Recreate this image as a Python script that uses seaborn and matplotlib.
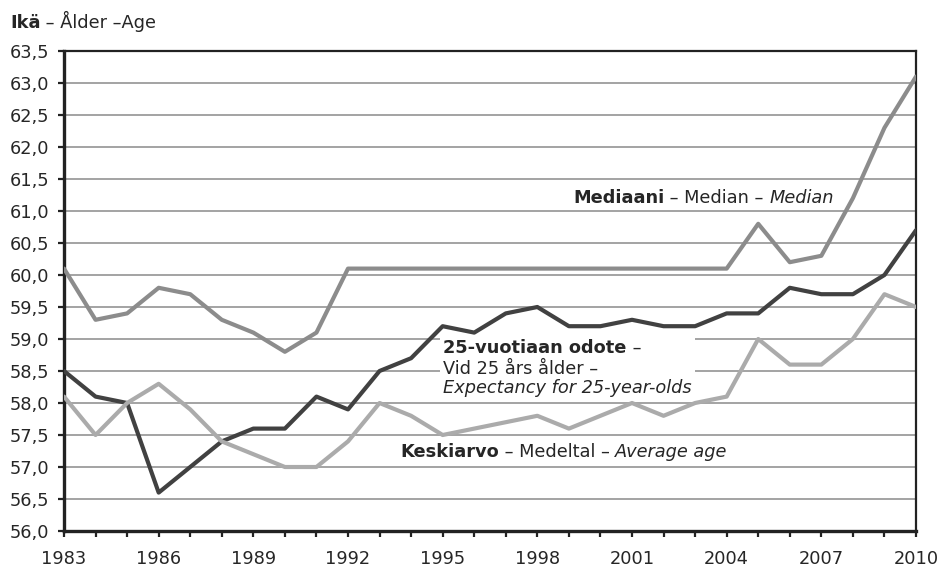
import matplotlib
matplotlib.use("Agg")
import matplotlib.pyplot as plt
import seaborn as sns
import pandas as pd
from matplotlib.patches import Rectangle

years = list(range(1983, 2011))
median = [60.1, 59.3, 59.4, 59.8, 59.7, 59.3, 59.1, 58.8, 59.1, 60.1,
          60.1, 60.1, 60.1, 60.1, 60.1, 60.1, 60.1, 60.1, 60.1, 60.1,
          60.1, 60.1, 60.8, 60.2, 60.3, 61.2, 62.3, 63.1]
expect25 = [58.5, 58.1, 58.0, 56.6, 57.0, 57.4, 57.6, 57.6, 58.1, 57.9,
            58.5, 58.7, 59.2, 59.1, 59.4, 59.5, 59.2, 59.2, 59.3, 59.2,
            59.2, 59.4, 59.4, 59.8, 59.7, 59.7, 60.0, 60.7]
average = [58.1, 57.5, 58.0, 58.3, 57.9, 57.4, 57.2, 57.0, 57.0, 57.4,
           58.0, 57.8, 57.5, 57.6, 57.7, 57.8, 57.6, 57.8, 58.0, 57.8,
           58.0, 58.1, 59.0, 58.6, 58.6, 59.0, 59.7, 59.5]
xtick_years = list(range(1983, 2011, 3))
yticks = [56.0 + 0.5 * i for i in range(16)]

sns.set_style("white")
plt.rcParams['font.family'] = ['DejaVu Sans']

fig = plt.figure(figsize=(9.41, 5.66), dpi=100)
ax = fig.add_axes([64/941, 1 - 531/566, (916-64)/941, (531-51)/566])

df = pd.DataFrame({"year": years, "median": median, "exp": expect25, "avg": average})
sns.lineplot(data=df, x="year", y="median", ax=ax, color="#8c8c8c", lw=3.0, zorder=4)
sns.lineplot(data=df, x="year", y="exp", ax=ax, color="#414141", lw=3.0, zorder=5)
sns.lineplot(data=df, x="year", y="avg", ax=ax, color="#ababab", lw=3.0, zorder=6)

fs = 12.8
tc = "#262626"
ax.set_xlim(1983, 2010)
ax.set_ylim(56.0, 63.5)
ax.set_xticks(years, minor=True)
ax.set_xticks(xtick_years)
ax.set_xticklabels([str(y) for y in xtick_years], fontsize=fs, color=tc)
ax.set_yticks(yticks)
ax.set_yticklabels([f"{v:.1f}".replace(".", ",") for v in yticks], fontsize=fs, color=tc)
ax.set_xlabel("")
ax.set_ylabel("")
for yv in yticks[1:-1]:
    ax.axhline(yv, color="#8a8a8a", lw=1.1, zorder=1)
ax.tick_params(axis="both", which="both", direction="out", length=4.5, width=1.6,
               color="#222222", left=True, bottom=True)
ax.tick_params(axis="x", which="major", pad=9)
ax.tick_params(axis="y", which="major", pad=6)
for s in ax.spines.values():
    s.set_color("#222222")
ax.spines["left"].set_linewidth(2.4)
ax.spines["bottom"].set_linewidth(2.4)
ax.spines["top"].set_linewidth(1.6)
ax.spines["right"].set_linewidth(1.6)

# white box behind the 25-year label
ax.add_patch(Rectangle((1994.91, 58.08), 8.09, 1.0, facecolor="white", edgecolor="none", zorder=2))

def chain(x, y, parts):
    t = ax.text(x, y, parts[0][0], fontweight=parts[0][1], fontstyle=parts[0][2],
                fontsize=fs, color=tc, va="baseline", ha="left", zorder=7)
    prev = t
    for txt, w, st in parts[1:]:
        prev = ax.annotate(txt, xy=(1, 0), xycoords=prev, va="bottom", ha="left",
                           fontweight=w, fontstyle=st, fontsize=fs, color=tc, zorder=7)
    return t

chain(1999.13, 61.12, [("Mediaani", "bold", "normal"), (" – Median – ", "normal", "normal"),
                       ("Median", "normal", "italic")])
chain(1995.02, 58.777, [("25-vuotiaan odote", "bold", "normal"), (" –", "normal", "normal")])
ax.text(1995.02, 58.453, "Vid 25 års ålder –", fontsize=fs, color=tc, va="baseline", zorder=7)
ax.text(1995.02, 58.16, "Expectancy for 25-year-olds", fontsize=fs, fontstyle="italic",
        color=tc, va="baseline", zorder=7)
chain(1993.65, 57.16, [("Keskiarvo", "bold", "normal"), (" – Medeltal – ", "normal", "normal"),
                       ("Average age", "normal", "italic")])

t1 = fig.text(10/941, 1 - 28.3/566, "Ikä", fontweight="bold", fontsize=fs, color=tc, va="baseline")
ax.annotate(" – Ålder –Age", xy=(1, 0), xycoords=t1, va="bottom", fontsize=fs, color=tc)

fig.savefig("out.png", dpi=100)
